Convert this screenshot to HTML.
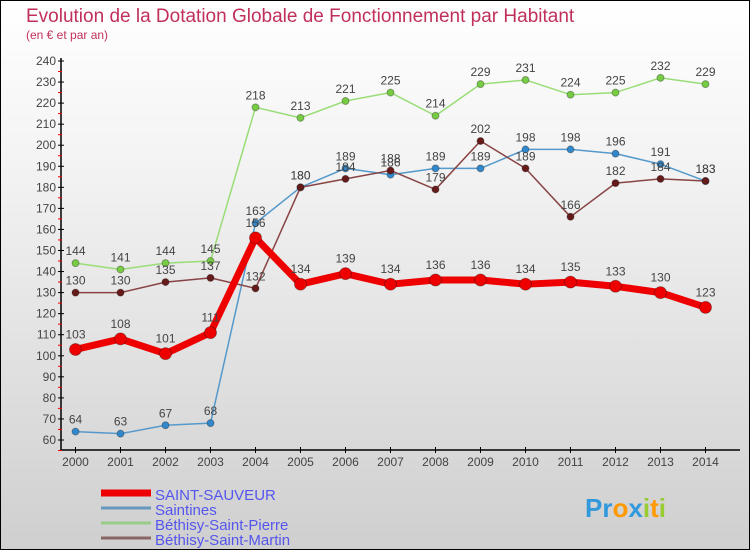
<!DOCTYPE html>
<html><head><meta charset="utf-8"><style>
body{margin:0}
#c{width:750px;height:550px;position:relative;box-sizing:border-box;border:1px solid #000;background:linear-gradient(#ffffff,#f3f3f3 30%,#cfcfcf);font-family:"Liberation Sans",sans-serif;overflow:hidden}
</style></head><body>
<div id="c">
<svg id="s" width="750" height="550" style="position:absolute;left:-1px;top:-1px">
<text x="26" y="22" font-size="19" fill="#c0305a">Evolution de la Dotation Globale de Fonctionnement par Habitant</text>
<text x="26" y="39" font-size="12" fill="#c0305a">(en € et par an)</text>
</svg>
</div>
<script>
const years=[2000,2001,2002,2003,2004,2005,2006,2007,2008,2009,2010,2011,2012,2013,2014];
const ss=[103,108,101,111,156,134,139,134,136,136,134,135,133,130,123];
const saintines=[64,63,67,68,163,180,189,186,189,189,198,198,196,191,183];
const bsp=[144,141,144,145,218,213,221,225,214,229,231,224,225,232,229];
const bsm=[130,130,135,137,132,180,184,188,179,202,189,166,182,184,183];
const yTicks=[60,70,80,90,100,110,120,130,140,150,160,170,180,190,200,210,220,230,240];
const svg=document.getElementById('s');const NS='http://www.w3.org/2000/svg';
const X=i=>75.5+i*45;const Y=v=>440-(v-60)*(379/180);
function mk(t,a,p){const e=document.createElementNS(NS,t);for(const k in a)e.setAttribute(k,a[k]);(p||svg).appendChild(e);return e;}
let ax=mk('path',{d:'M61,58V450H740',stroke:'#000','stroke-width':1.5,fill:'none'});


yTicks.forEach(v=>{const y=Y(v);
mk('line',{x1:58,x2:64,y1:y,y2:y,stroke:'#000'});
mk('line',{x1:58,x2:62,y1:y+10.5,y2:y+10.5,stroke:'#e00'});
const t=mk('text',{x:56,y:y+4,'text-anchor':'end','font-size':12,fill:'#444'});t.textContent=v;

});
years.forEach((yr,i)=>{mk('line',{x1:X(i),x2:X(i),y1:447,y2:453,stroke:'#000'});
const t=mk('text',{x:X(i),y:466,'text-anchor':'middle','font-size':12,fill:'#444'});t.textContent=yr;

});
function series(d,color,dot,w,r,name,off){
const g=mk('g',{});


mk('polyline',{points:d.map((v,i)=>X(i)+','+Y(v)).join(' '),fill:'none',stroke:color,'stroke-width':w,'stroke-linejoin':'round'},g);
d.forEach((v,i)=>{const c=mk('circle',{cx:X(i),cy:Y(v),r:r,fill:dot,stroke:'rgba(0,0,0,0.3)'},g);


const t=mk('text',{x:X(i),y:Y(v)-off,'text-anchor':'middle','font-size':12,fill:'#444'},g);t.textContent=v;

});}
series(bsp,'#99dd77','#77cc44',1.5,3.5,'series-bethisy-saint-pierre',8);
series(saintines,'#5599cc','#3388cc',1.5,3.5,'series-saintines',8);
series(bsm,'#884444','#661a1a',1.5,3.5,'series-bethisy-saint-martin',8);
series(ss,'#ee0000','#ee0000',7,6,'series-saint-sauveur',11);
const leg=[['SAINT-SAUVEUR','#ee0000',7],['Saintines','#6699bb',3],['Béthisy-Saint-Pierre','#99cc88',3],['Béthisy-Saint-Martin','#886666',3]];
leg.forEach((l,i)=>{const y=493+i*15;const g=mk('g',{});


mk('line',{x1:101,x2:151,y1:y,y2:y,stroke:l[1],'stroke-width':l[2]},g);
const t=mk('text',{x:155,y:y+7,'font-size':15,fill:'#5555ee'},g);t.textContent=l[0];});
const lg=mk('text',{x:585,y:517,'font-size':26,'font-weight':'bold',fill:'#3399dd'});


lg.innerHTML='<tspan fill="#3399dd">Pr</tspan><tspan fill="#ff9900">o</tspan><tspan fill="#3399dd">x</tspan><tspan fill="#99cc33">i</tspan><tspan fill="#ff9900">t</tspan><tspan fill="#99cc33">i</tspan>';
</script>
</body></html>
